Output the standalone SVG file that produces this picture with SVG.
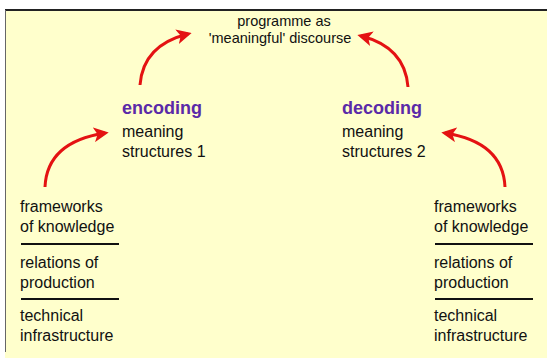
<svg xmlns="http://www.w3.org/2000/svg" width="547" height="358" viewBox="0 0 547 358">
<style>
text{font-family:"Liberation Sans",Arial,sans-serif;font-size:16px;fill:#111}
.t{font-size:14.5px}
.h{font-size:18px;font-weight:bold;fill:#5a2aa8}
.rule{stroke:#111;stroke-width:2}
.arr{fill:none;stroke:#e41212;stroke-width:3;marker-end:url(#ah)}
</style>
<defs>
<marker id="ah" viewBox="0 0 12 12" refX="9" refY="6" markerWidth="5" markerHeight="5" orient="auto" markerUnits="strokeWidth">
<path d="M0,0 L12,6 L0,12 L3,6 Z" fill="#e41212"/>
</marker>
</defs>
<rect x="0" y="0" width="547" height="358" fill="#ffffff"/>
<rect x="5" y="10" width="542" height="348" fill="#ffffcc"/>
<line x1="5" y1="10" x2="547" y2="10" stroke="#222" stroke-width="2"/>
<line x1="5.5" y1="10" x2="5.5" y2="352" stroke="#666" stroke-width="1"/>
<g id="programme">
<text class="t" x="284" y="26" text-anchor="middle">programme as</text>
<text class="t" x="280" y="43" text-anchor="middle">'meaningful' discourse</text>
</g>
<g id="encoding">
<text class="h" x="122" y="114">encoding</text>
<text x="122" y="137">meaning</text>
<text x="122" y="157">structures 1</text>
</g>
<g id="decoding">
<text class="h" x="342" y="114">decoding</text>
<text x="342" y="137">meaning</text>
<text x="342" y="157">structures 2</text>
</g>
<g id="left-base">
<text x="20" y="212">frameworks</text>
<text x="20" y="232">of knowledge</text>
<line class="rule" x1="21" y1="244" x2="119" y2="244"/>
<text x="20" y="268">relations of</text>
<text x="20" y="288">production</text>
<line class="rule" x1="21" y1="299" x2="119" y2="299"/>
<text x="20" y="321">technical</text>
<text x="20" y="341">infrastructure</text>
</g>
<g id="right-base">
<text x="434" y="212">frameworks</text>
<text x="434" y="232">of knowledge</text>
<line class="rule" x1="435" y1="244" x2="533" y2="244"/>
<text x="434" y="268">relations of</text>
<text x="434" y="288">production</text>
<line class="rule" x1="435" y1="299" x2="533" y2="299"/>
<text x="434" y="321">technical</text>
<text x="434" y="341">infrastructure</text>
</g>
<g id="connectors">
<path class="arr" d="M140,85 Q143,45 188,34"/>
<path class="arr" d="M408,87 Q405,47 361,36"/>
<path class="arr" d="M45,187 Q47,142 105,133"/>
<path class="arr" d="M505,187 Q503,142 445,133"/>
</g>
</svg>
